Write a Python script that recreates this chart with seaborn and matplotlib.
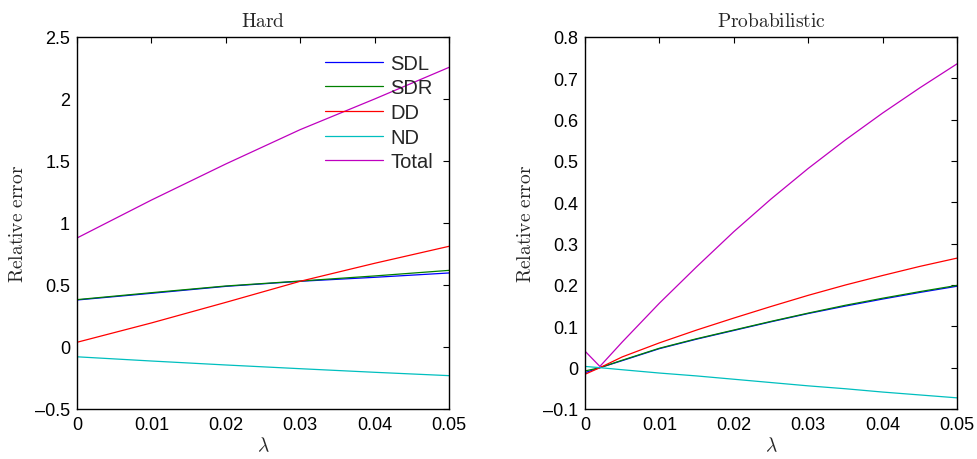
import numpy as np
import pandas as pd
import matplotlib
matplotlib.use("Agg")
import matplotlib.pyplot as plt
import seaborn as sns

# ---- data ----
series_names = ["SDL", "SDR", "DD", "ND", "Total"]
series_colors = ["#0000ff", "#008000", "#ff0000", "#00bfbf", "#bf00bf"]

lam_hard = [0.0, 0.01, 0.02, 0.03, 0.04, 0.05]
hard_sdl = [0.379, 0.433, 0.489, 0.530, 0.562, 0.597]
hard_sdr = [0.382, 0.438, 0.492, 0.532, 0.573, 0.618]
hard_dd = [0.038, 0.194, 0.360, 0.530, 0.675, 0.812]
hard_nd = [-0.079, -0.113, -0.145, -0.175, -0.204, -0.231]
hard_total = [0.879, 1.185, 1.476, 1.753, 2.000, 2.255]

lam_prob = [0.0, 0.002, 0.005, 0.01, 0.015, 0.02, 0.025, 0.03, 0.035, 0.04, 0.045, 0.05]
prob_sdl = [-0.012, 0.0, 0.017, 0.046, 0.069, 0.090, 0.111, 0.131, 0.149, 0.166, 0.182, 0.197]
prob_sdr = [-0.008, 0.0, 0.018, 0.047, 0.070, 0.091, 0.112, 0.132, 0.151, 0.168, 0.184, 0.199]
prob_dd = [-0.016, 0.0, 0.026, 0.060, 0.091, 0.120, 0.148, 0.175, 0.200, 0.223, 0.245, 0.265]
prob_nd = [0.003, 0.0, -0.005, -0.013, -0.020, -0.028, -0.036, -0.044, -0.051, -0.059, -0.066, -0.073]
prob_total = [0.040, 0.003, 0.062, 0.156, 0.244, 0.329, 0.408, 0.482, 0.551, 0.616, 0.677, 0.735]

hard_ticks_y = [-0.5, 0, 0.5, 1, 1.5, 2, 2.5]
prob_ticks_y = [-0.1, 0, 0.1, 0.2, 0.3, 0.4, 0.5, 0.6, 0.7, 0.8]
ticks_x = [0, 0.01, 0.02, 0.03, 0.04, 0.05]


def to_long(lam, cols):
    frames = []
    for name, vals in zip(series_names, cols):
        frames.append(pd.DataFrame({"lambda": lam, "value": vals, "series": name}))
    return pd.concat(frames, ignore_index=True)


df_hard = to_long(lam_hard, [hard_sdl, hard_sdr, hard_dd, hard_nd, hard_total])
df_prob = to_long(lam_prob, [prob_sdl, prob_sdr, prob_dd, prob_nd, prob_total])

sns.set_style("white")
plt.rcParams["font.family"] = ["Liberation Sans", "DejaVu Sans"]
plt.rcParams["mathtext.fontset"] = "cm"

fig = plt.figure(figsize=(9.78, 4.6), dpi=100)
ax1 = fig.add_axes([77 / 978, 1 - 410 / 460, 372 / 978, 372 / 460])
ax2 = fig.add_axes([585 / 978, 1 - 410 / 460, 372 / 978, 372 / 460])

palette = dict(zip(series_names, series_colors))

for ax, df, yt, ylim, title in [
    (ax1, df_hard, hard_ticks_y, (-0.5, 2.5), r"$\mathrm{Hard}$"),
    (ax2, df_prob, prob_ticks_y, (-0.1, 0.8), r"$\mathrm{Probabilistic}$"),
]:
    sns.lineplot(data=df, x="lambda", y="value", hue="series",
                 hue_order=series_names, palette=palette, linewidth=0.9,
                 ax=ax, legend=(ax is ax1))
    ax.set_xlim(0, 0.05)
    ax.set_ylim(*ylim)
    ax.set_xticks(ticks_x)
    ax.set_xticklabels([("%g" % t) for t in ticks_x])
    ax.set_yticks(yt)
    ax.set_yticklabels([("%g" % t).replace("-", "\u2013") for t in yt])
    ax.tick_params(direction="in", length=4, width=0.8, top=True, right=True,
                   labelsize=13, colors="black", pad=5)
    for s in ax.spines.values():
        s.set_visible(True)
        s.set_color("black")
        s.set_linewidth(1.0)
    ax.set_title(title, fontsize=14, pad=8)
    ax.set_xlabel(r"$\lambda$", fontsize=14, labelpad=2)
    ax.set_ylabel(r"$\mathrm{Relative\ error}$", fontsize=14, labelpad=6)

leg = ax1.legend(loc="upper right", frameon=False, fontsize=14.5,
                 handlelength=2.9, handletextpad=0.35, labelspacing=0.28,
                 borderpad=0, borderaxespad=0, bbox_to_anchor=(0.957, 0.955))

fig.savefig("out.png", dpi=100, facecolor="white")
